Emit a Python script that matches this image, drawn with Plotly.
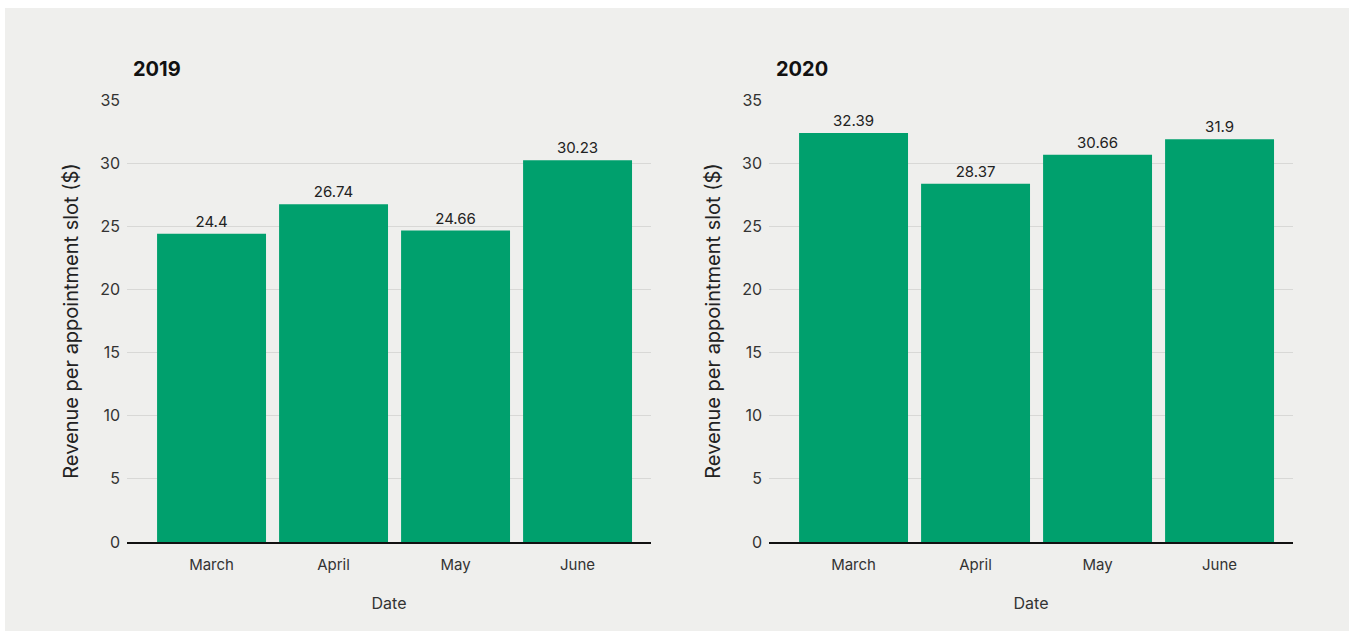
import plotly.graph_objects as go

months = ["March", "April", "May", "June"]
rev_2019 = [24.4, 26.74, 24.66, 30.23]
rev_2020 = [32.39, 28.37, 30.66, 31.9]
years = ["2019", "2020"]
yticks = [0, 5, 10, 15, 20, 25, 30, 35]

W, H = 1349, 631
GREEN = "#00a06d"
BG = "#efefed"
FONT = "Inter, Liberation Sans, Arial, sans-serif"

fig = go.Figure()
for i, vals in enumerate([rev_2019, rev_2020]):
    sfx = "" if i == 0 else "2"
    fig.add_trace(go.Bar(
        x=months, y=vals, xaxis="x" + sfx, yaxis="y" + sfx,
        marker=dict(color=GREEN, line=dict(width=0)),
        text=[f"{v:g}" for v in vals], textposition="outside",
        textfont=dict(size=15, color="#222", family=FONT),
        cliponaxis=False, showlegend=False, hoverinfo="x+y",
    ))

xd = [[127 / W, 651 / W], [769 / W, 1293 / W]]
yd = [1 - 542 / H, 1 - 100 / H]

layout = dict(
    width=W, height=H, margin=dict(l=0, r=0, t=0, b=0, autoexpand=False),
    paper_bgcolor="white", plot_bgcolor=BG,
    bargap=0.107, font=dict(family=FONT, color="#333", size=15),
    shapes=[dict(type="rect", xref="paper", yref="paper", x0=5 / W, x1=1,
                 y0=0, y1=1 - 8 / H, fillcolor=BG, line=dict(width=0), layer="below")],
    annotations=[],
)
for i in range(2):
    sfx = "" if i == 0 else "2"
    layout["xaxis" + sfx] = dict(
        domain=xd[i], anchor="y" + sfx, range=[-0.693, 3.602], automargin=False,
        showgrid=False, showline=True, linecolor="#111", linewidth=2,
        ticks="", ticklabelstandoff=8, tickfont=dict(size=15, color="#333"),
        title=dict(text="Date", font=dict(size=16, color="#333"), standoff=25),
        fixedrange=True,
    )
    layout["yaxis" + sfx] = dict(
        domain=yd, anchor="x" + sfx, range=[0, 35], tickvals=yticks, automargin=False,
        showgrid=True, gridcolor="#d8d8d6", gridwidth=1, zeroline=False,
        ticks="", ticklabelstandoff=6, tickfont=dict(size=16, color="#333"),
        title=dict(text="Revenue per appointment slot ($)", font=dict(size=20, color="#222"), standoff=16),
        fixedrange=True,
    )
    layout["annotations"].append(dict(
        text=f"<b>{years[i]}</b>", xref="paper", yref="paper",
        x=(131 if i == 0 else 774) / W, y=1 - 69 / H, xanchor="left", yanchor="middle",
        showarrow=False, font=dict(size=20, color="#111", family=FONT),
    ))

fig.update_layout(**layout)
fig.write_html("out.html", post_script="document.body.style.margin='0';",
               config={"displayModeBar": False})
